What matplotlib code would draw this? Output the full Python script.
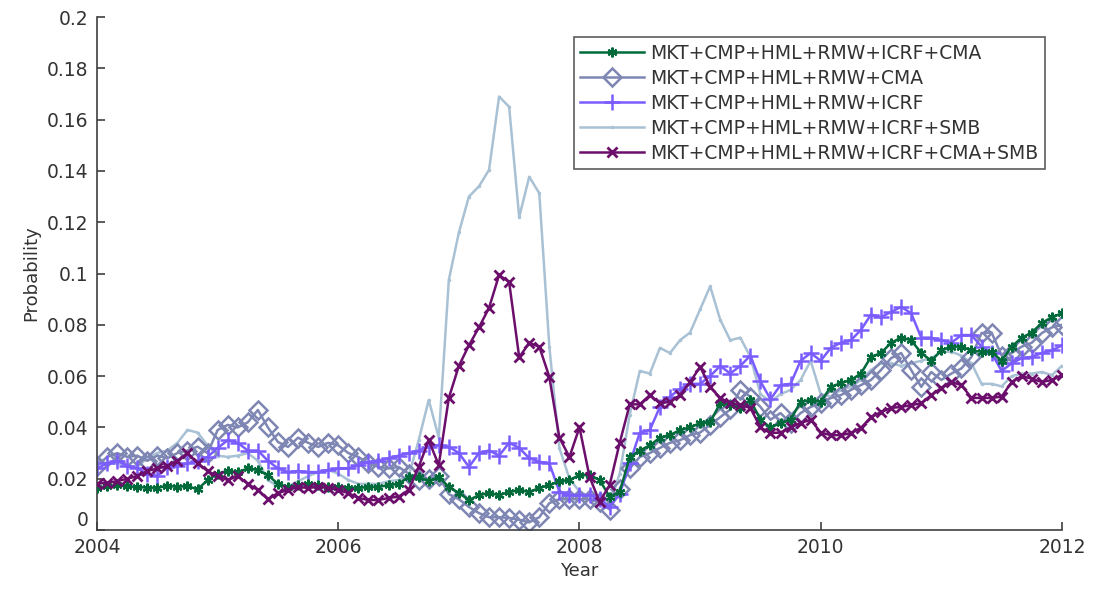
import numpy as np
import matplotlib
matplotlib.use("Agg")
import matplotlib.pyplot as plt
from matplotlib.ticker import FuncFormatter

# monthly values, Jan 2004 .. Jan 2012
years = 2004 + np.arange(97) / 12.0

cma_icrf = [0.0165, 0.017, 0.0175, 0.017, 0.0168, 0.0165, 0.0165, 0.0172, 0.0168, 0.0172,
            0.0158, 0.0195, 0.022, 0.023, 0.0226, 0.024, 0.0234, 0.0214, 0.018, 0.0168,
            0.0175, 0.018, 0.0175, 0.0168, 0.0168, 0.0164, 0.0164, 0.0168, 0.0168, 0.0175,
            0.018, 0.0207, 0.0207, 0.019, 0.0207, 0.0168, 0.0144, 0.0117, 0.0136, 0.0144,
            0.0136, 0.0148, 0.0156, 0.0148, 0.0164, 0.0175, 0.019, 0.0195, 0.0214, 0.0214,
            0.0195, 0.013, 0.0148, 0.0285, 0.031, 0.033, 0.036, 0.037, 0.039, 0.040,
            0.0417, 0.042, 0.0495, 0.0487, 0.0476, 0.0507, 0.043, 0.040, 0.0417, 0.043,
            0.050, 0.0507, 0.050, 0.0558, 0.0573, 0.0585, 0.061, 0.0675, 0.069, 0.073,
            0.075, 0.074, 0.069, 0.066, 0.070, 0.0715, 0.0715, 0.070, 0.0695, 0.0695,
            0.066, 0.0715, 0.075, 0.077, 0.0807, 0.083, 0.0845]

cma = [0.025, 0.0285, 0.030, 0.0285, 0.029, 0.027, 0.029, 0.028, 0.030, 0.031,
       0.0325, 0.030, 0.039, 0.041, 0.040, 0.042, 0.0468, 0.040, 0.0343, 0.0324,
       0.036, 0.034, 0.0324, 0.034, 0.033, 0.030, 0.0285, 0.026, 0.0246, 0.024,
       0.0246, 0.022, 0.0195, 0.020, 0.021, 0.014, 0.012, 0.009, 0.0066, 0.005,
       0.005, 0.0047, 0.004, 0.003, 0.005, 0.0105, 0.012, 0.012, 0.012, 0.012,
       0.011, 0.008, 0.016, 0.024, 0.0285, 0.030, 0.032, 0.034, 0.035, 0.037,
       0.038, 0.041, 0.044, 0.047, 0.0546, 0.052, 0.048, 0.043, 0.0456, 0.0417,
       0.0456, 0.048, 0.0494, 0.0515, 0.0526, 0.0546, 0.0565, 0.0585, 0.0624, 0.067,
       0.069, 0.0624, 0.0558, 0.0616, 0.0585, 0.061, 0.063, 0.0675, 0.0768, 0.077,
       0.068, 0.069, 0.0715, 0.073, 0.0768, 0.079, 0.080]

icrf = [0.024, 0.026, 0.027, 0.025, 0.024, 0.022, 0.021, 0.0246, 0.025, 0.026,
        0.027, 0.0285, 0.032, 0.035, 0.034, 0.031, 0.031, 0.027, 0.024, 0.0226,
        0.023, 0.0226, 0.0226, 0.0234, 0.024, 0.024, 0.0253, 0.0265, 0.027, 0.028,
        0.029, 0.030, 0.031, 0.0325, 0.033, 0.0325, 0.030, 0.0246, 0.030, 0.031,
        0.029, 0.034, 0.032, 0.028, 0.0266, 0.026, 0.015, 0.0137, 0.0137, 0.0137,
        0.012, 0.009, 0.014, 0.026, 0.038, 0.039, 0.048, 0.052, 0.055, 0.057,
        0.057, 0.060, 0.064, 0.061, 0.064, 0.068, 0.058, 0.051, 0.0565, 0.057,
        0.066, 0.069, 0.066, 0.071, 0.073, 0.074, 0.078, 0.084, 0.083, 0.085,
        0.087, 0.0845, 0.075, 0.075, 0.074, 0.073, 0.076, 0.076, 0.0715, 0.069,
        0.062, 0.065, 0.067, 0.0675, 0.069, 0.070, 0.072]

icrf_smb = [0.027, 0.026, 0.026, 0.025, 0.0246, 0.028, 0.030, 0.031, 0.034, 0.039,
            0.038, 0.033, 0.029, 0.0285, 0.029, 0.030, 0.027, 0.0195, 0.017, 0.017,
            0.019, 0.021, 0.0226, 0.0234, 0.022, 0.0195, 0.018, 0.018, 0.018, 0.019,
            0.0195, 0.021, 0.035, 0.0507, 0.036, 0.0975, 0.116, 0.130, 0.134, 0.1404,
            0.169, 0.165, 0.122, 0.1377, 0.1313, 0.0715, 0.032, 0.020, 0.015, 0.013,
            0.012, 0.010, 0.022, 0.045, 0.062, 0.061, 0.071, 0.069, 0.074, 0.077,
            0.086, 0.095, 0.082, 0.074, 0.075, 0.0675, 0.053, 0.050, 0.053, 0.0546,
            0.0585, 0.066, 0.053, 0.052, 0.0546, 0.0558, 0.0585, 0.0624, 0.065, 0.065,
            0.064, 0.065, 0.066, 0.067, 0.0695, 0.0695, 0.068, 0.065, 0.057, 0.057,
            0.056, 0.060, 0.061, 0.061, 0.0616, 0.0604, 0.064]

cma_smb = [0.018, 0.0185, 0.019, 0.020, 0.021, 0.023, 0.024, 0.025, 0.027, 0.030,
           0.026, 0.023, 0.021, 0.0195, 0.021, 0.018, 0.0156, 0.012, 0.0144, 0.0156,
           0.0168, 0.0164, 0.0168, 0.0164, 0.0156, 0.0144, 0.0125, 0.0117, 0.0117, 0.0125,
           0.013, 0.0156, 0.0246, 0.035, 0.0253, 0.0515, 0.064, 0.072, 0.079, 0.0866,
           0.0994, 0.0967, 0.0674, 0.0729, 0.0715, 0.0597, 0.036, 0.0285, 0.040, 0.0207,
           0.011, 0.0175, 0.034, 0.049, 0.049, 0.0526, 0.0494, 0.050, 0.0526, 0.0577,
           0.0636, 0.0558, 0.0515, 0.0494, 0.0487, 0.0476, 0.040, 0.0378, 0.038, 0.040,
           0.0417, 0.043, 0.038, 0.037, 0.037, 0.0378, 0.0398, 0.044, 0.046, 0.0476,
           0.048, 0.0487, 0.0494, 0.0526, 0.0554, 0.0577, 0.0565, 0.0515, 0.0515, 0.0515,
           0.052, 0.0577, 0.060, 0.059, 0.0577, 0.0585, 0.0604]

labels = ['MKT+CMP+HML+RMW+ICRF+CMA',
          'MKT+CMP+HML+RMW+CMA',
          'MKT+CMP+HML+RMW+ICRF',
          'MKT+CMP+HML+RMW+ICRF+SMB',
          'MKT+CMP+HML+RMW+ICRF+CMA+SMB']

fig = plt.figure(figsize=(10.94, 5.93), dpi=100)
ax = fig.add_axes([0.0887, 0.1062, 0.882, 0.8651])

lw = 1.8
ax.plot(years, cma_icrf, color='#006a3a', lw=lw, marker=(6, 2, 0), ms=7, mew=1.6, label=labels[0], zorder=3)
ax.plot(years, cma, color='#7e86b3', lw=lw, marker='D', ms=9.5, mfc='none', mew=1.8, label=labels[1], zorder=2)
ax.plot(years, icrf, color='#7a5cff', lw=lw, marker='+', ms=11, mew=1.8, label=labels[2], zorder=2)
ax.plot(years, icrf_smb, color='#a9c1d4', lw=lw, marker='.', ms=3, label=labels[3], zorder=1)
ax.plot(years, cma_smb, color='#6c0f6c', lw=lw, marker='x', ms=7, mew=2.0, label=labels[4], zorder=4)

ax.set_xlim(2004, 2012)
ax.set_ylim(0, 0.2)
ax.set_xticks([2004, 2006, 2008, 2010, 2012])
ax.set_yticks(np.arange(0, 0.2001, 0.02))
ax.yaxis.set_major_formatter(FuncFormatter(lambda v, p: '%g' % round(v, 4)))
ax.xaxis.set_major_formatter(FuncFormatter(lambda v, p: '%d' % v))

for s in ['top', 'right']:
    ax.spines[s].set_visible(False)
for s in ['left', 'bottom']:
    ax.spines[s].set_color('#404040')
    ax.spines[s].set_linewidth(1.2)
ax.tick_params(direction='in', length=6, width=1.2, colors='#404040', labelcolor='#333333', labelsize=13.5, pad=6)

ax.set_xlabel('Year', fontsize=13, color='#333333', labelpad=3)
ax.set_ylabel('Probability', fontsize=13, color='#333333', labelpad=5)

leg = ax.legend(loc='upper right', bbox_to_anchor=(0.982, 0.961), fontsize=13.5, frameon=True, fancybox=False,
                handlelength=3.4, labelspacing=0.32, borderpad=0.35, handletextpad=0.3, borderaxespad=0)
leg.get_frame().set_edgecolor('#333333')
leg.get_frame().set_linewidth(1.2)
for t in leg.get_texts():
    t.set_color('#333333')

# lift the bottom "0" label a little, like the original, so it clears "2004"
fig.canvas.draw()
ax.yaxis.get_major_ticks()[0].label1.set_verticalalignment('bottom')

fig.savefig('out.png', dpi=100)
